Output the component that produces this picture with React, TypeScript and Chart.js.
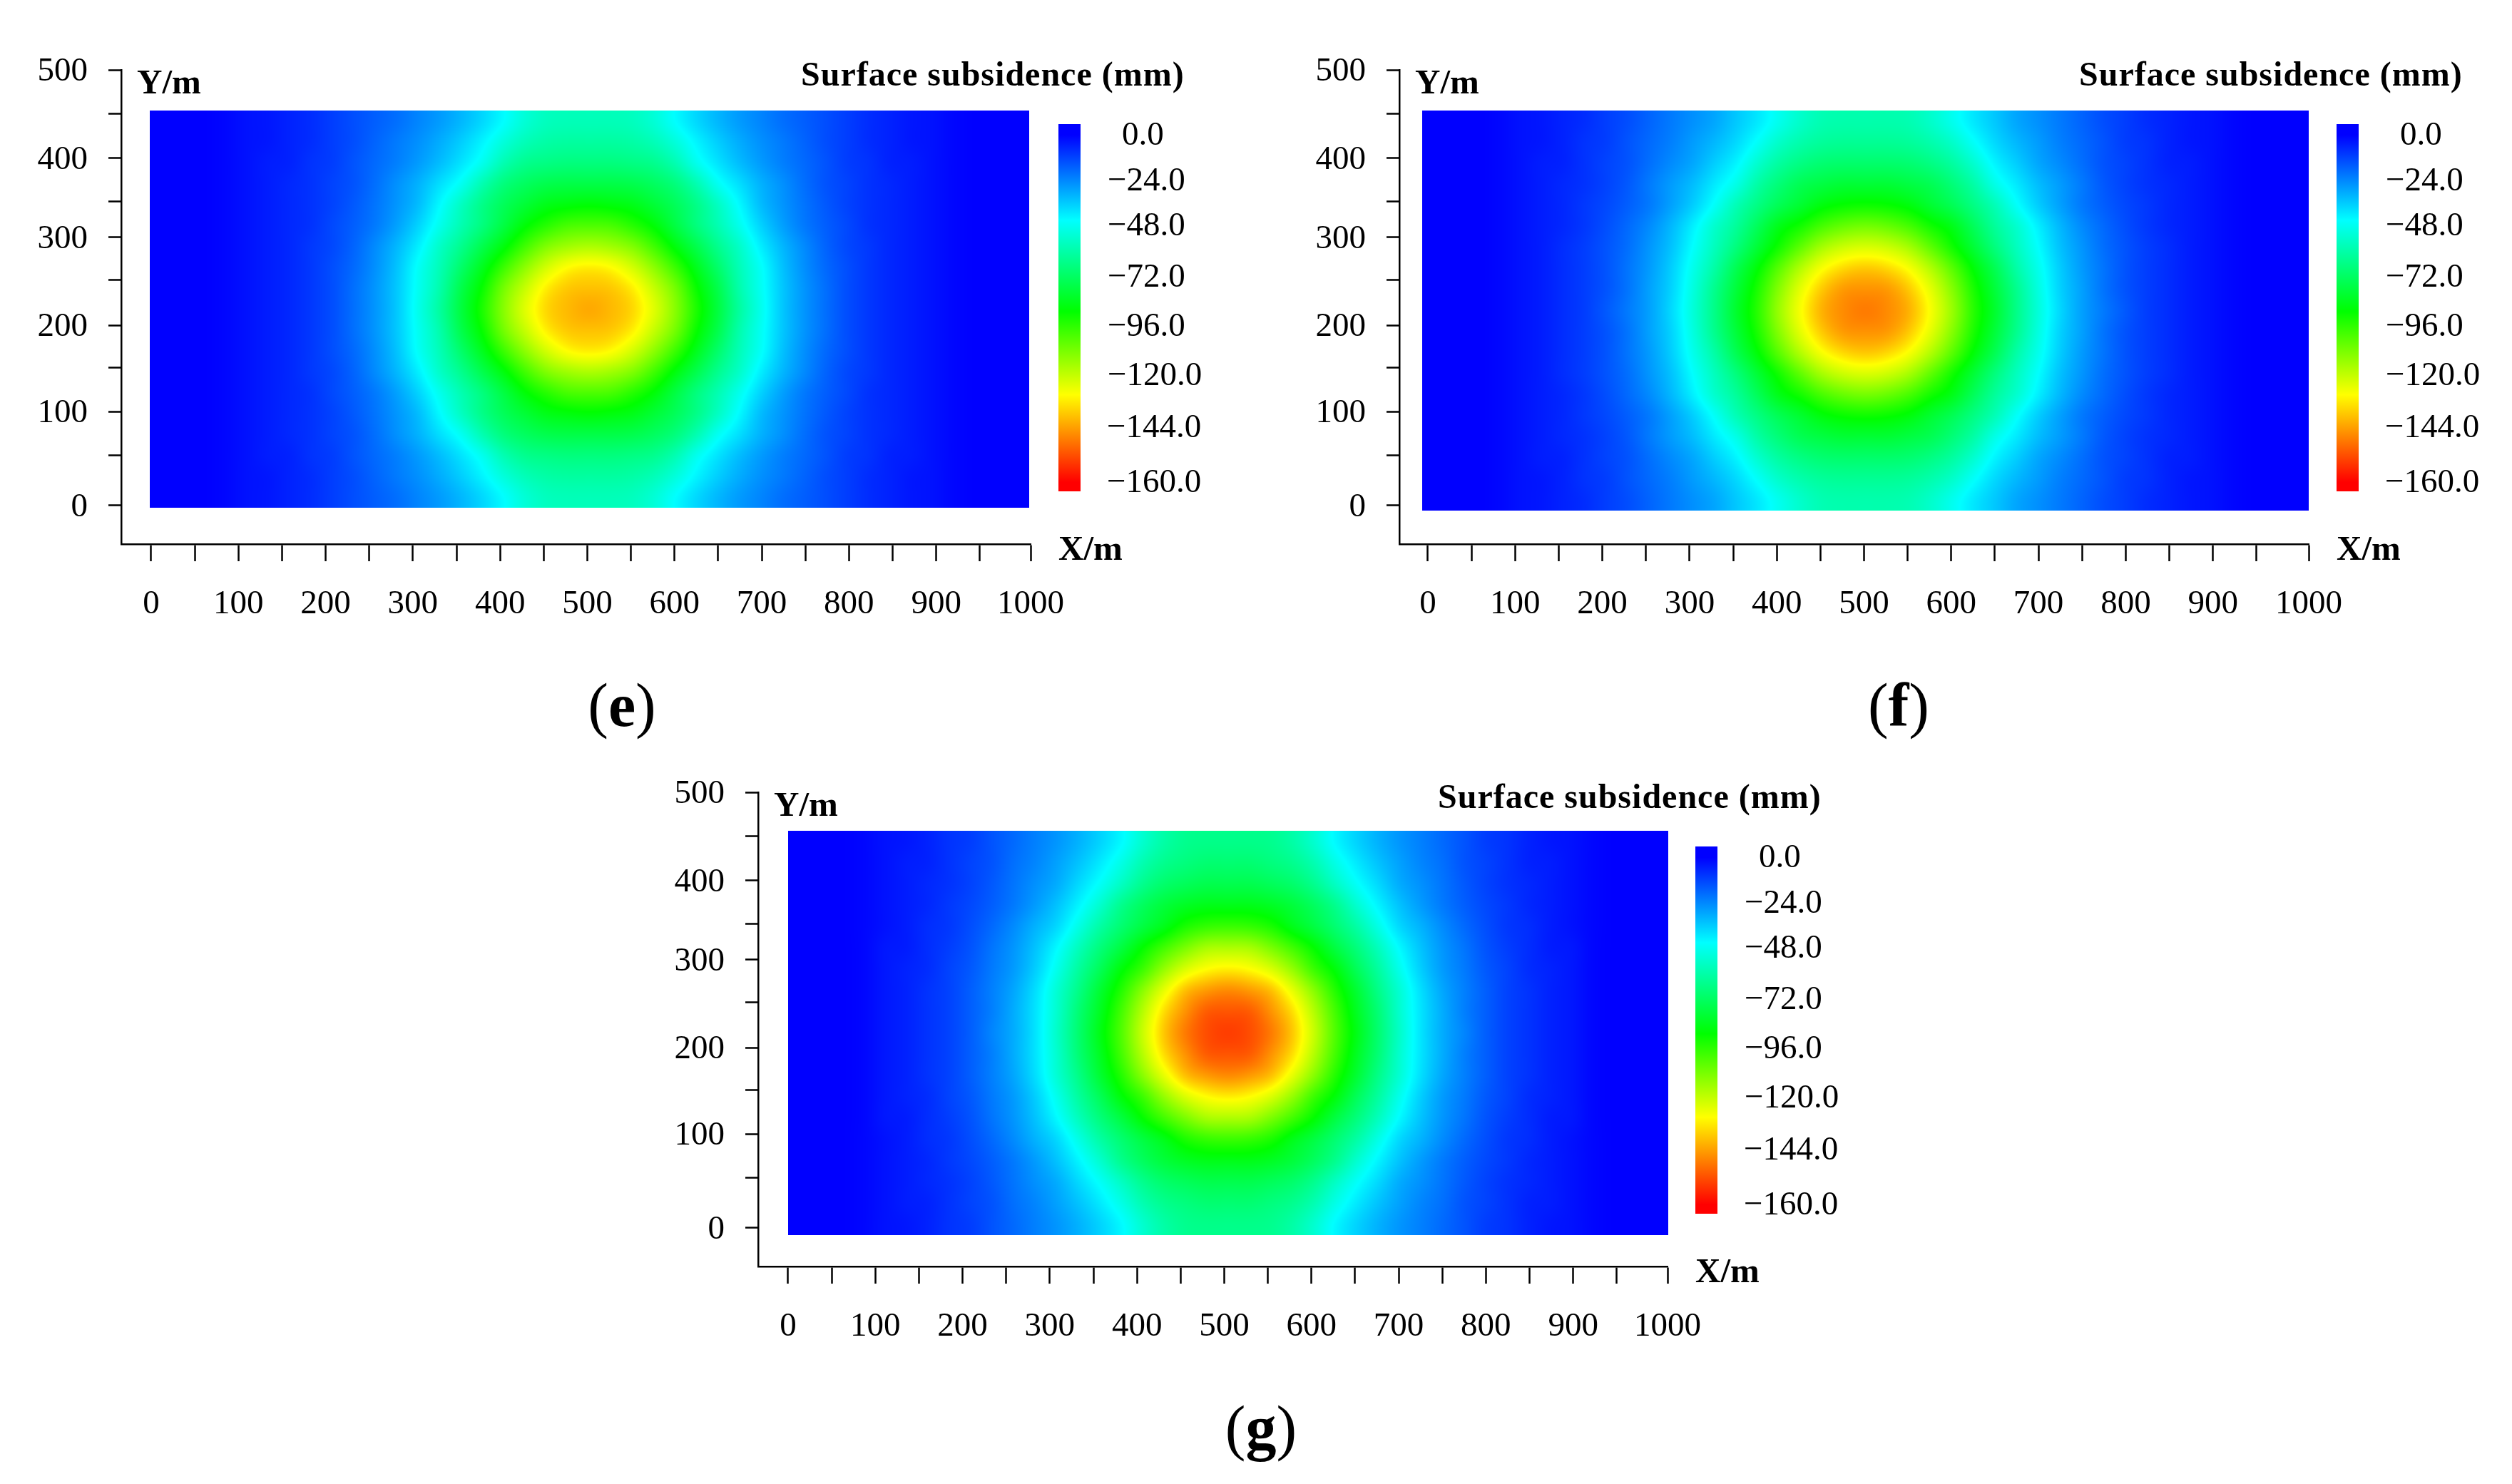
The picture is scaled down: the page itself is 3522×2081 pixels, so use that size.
import React, { useEffect, useRef } from "react";
import { Chart, registerables } from "chart.js";

Chart.register(...registerables);

// Tick positions and their printed texts. The source figure's axes are not perfectly even,
// so Y_TICK_AT holds where each printed tick sits on the axis scale.
const X_TICKS = [0, 50, 100, 150, 200, 250, 300, 350, 400, 450, 500, 550, 600, 650, 700, 750, 800, 850, 900, 950, 1000];
const Y_TICK_AT = [0, 58, 108, 158, 207, 259, 308, 349, 399, 450, 500];
const Y_TICK_TEXT = ["0", "", "100", "", "200", "", "300", "", "400", "", "500"];
const LEGEND_TEXT = ["0.0", "\u221224.0", "\u221248.0", "\u221272.0", "\u221296.0", "\u2212120.0", "\u2212144.0", "\u2212160.0"];

// Subsidence magnitude (mm). Each field is symmetric about its centre,
// so one quadrant is read: rows go from the centre row outwards, columns from the centre column outwards.
const FIELD_E = [
  [140,138,134,124,110,93,78,62,49,36,27,20,14,10,7,5,3,1,0,0,0],
  [137,136,131,120,107,90,76,60,48,36,27,20,14,10,7,5,3,1,0,0,0],
  [131,129,122,111,98,84,71,58,47,35,26,19,14,10,7,5,3,1,0,0,0],
  [116,114,109,99,87,76,65,55,43,33,25,18,13,10,7,5,3,1,0,0,0],
  [101,100,95,88,78,68,59,49,38,29,22,17,13,9,7,5,3,1,0,0,0],
  [88,87,85,80,74,66,56,45,34,27,21,16,12,9,7,5,3,1,0,0,0],
  [77,77,76,73,68,59,48,40,32,26,20,15,12,9,7,5,3,1,0,0,0],
  [68,68,67,65,59,49,41,34,28,23,19,15,11,9,6,5,3,1,0,0,0],
  [62,62,61,58,52,44,37,31,26,22,18,14,11,8,6,4,3,1,0,0,0],
  [58,58,57,53,46,39,33,28,24,20,17,14,11,8,6,4,3,1,0,0,0],
];
const FIELD_F = [
  [146,144,139,128,113,95,81,66,52,39,29,22,16,11,8,5,3,1,0,0,0],
  [143,142,136,125,110,93,79,65,51,38,29,21,15,11,8,5,3,1,0,0,0],
  [136,134,128,117,103,88,75,61,49,37,28,21,15,11,8,5,3,1,0,0,0],
  [123,121,115,104,92,80,68,57,46,35,27,20,15,11,8,5,3,1,0,0,0],
  [107,105,100,92,85,74,63,54,43,33,25,19,14,10,7,5,3,1,0,0,0],
  [91,90,87,81,75,67,58,47,37,29,22,17,13,10,7,5,3,1,0,0,0],
  [80,80,78,75,69,61,50,42,34,28,22,16,12,9,7,5,3,1,0,0,0],
  [71,71,70,67,62,54,44,37,30,25,20,15,12,9,6,5,3,1,0,0,0],
  [64,64,63,60,55,47,39,33,28,23,19,15,11,9,6,4,3,1,0,0,0],
  [60,60,59,55,49,42,36,30,26,22,18,14,11,8,6,4,3,1,0,0,0],
];
const FIELD_G = [
  [154,152,146,136,120,101,85,70,55,41,31,24,17,12,9,6,4,1,0,0,0],
  [151,150,143,133,117,99,83,69,54,41,31,23,17,12,9,6,4,1,0,0,0],
  [144,142,137,125,110,94,80,66,53,40,30,23,17,12,9,6,4,1,0,0,0],
  [131,129,123,112,98,87,74,62,49,37,28,22,16,12,8,6,4,1,0,0,0],
  [116,115,108,99,89,78,68,57,45,35,27,21,15,11,8,5,4,1,0,0,0],
  [98,97,93,85,78,70,61,50,39,32,25,19,14,10,8,5,3,1,0,0,0],
  [85,85,83,79,73,65,54,44,35,28,22,17,13,10,7,5,3,1,0,0,0],
  [76,76,74,71,65,56,47,39,31,26,21,16,12,9,7,5,3,1,0,0,0],
  [70,70,68,65,59,50,42,35,29,24,20,15,12,9,6,5,3,1,0,0,0],
  [66,66,65,61,54,45,38,32,27,23,19,15,11,9,6,4,3,1,0,0,0],
];

// Magnitude at which each pure colour of the rainbow occurs.
const COLOR_VALUES = [0, 46, 89, 129, 162];
const COLOR_RGB = [[0, 0, 255], [0, 255, 255], [0, 255, 0], [255, 255, 0], [255, 0, 0]];
const BAR_STOPS: [number, string][] = [[0, "#0000ff"], [0.03, "#0000ff"], [0.262, "#00ffff"], [0.51, "#00ff00"], [0.737, "#ffff00"], [0.975, "#ff0000"], [1, "#ff0000"]];

// Layout (all in px of a panel's own canvas frame, plus per-panel placement).
const CANVAS_W = 1700;
const CANVAS_H = 1000;
const FONT = "'Liberation Serif'";
const AREA = { left: 170, top: 38, right: 1445, bottom: 703 };
const LEGEND_Y = [127, 191, 254, 326, 395, 464, 537, 614];
const LEGEND_LEFT = [1573, 1553, 1553, 1553, 1553, 1553, 1552, 1552];

const PANELS = [
  { id: "e", field: FIELD_E, left: 0, top: 60, xMin: -34.3, xMax: 1008.2, heatX: [-2, 1006], heatY: [-3, 453], captionX: 872 },
  { id: "f", field: FIELD_F, left: 1792, top: 60, xMin: -32.7, xMax: 1009.8, heatX: [-6.5, 1010], heatY: [-6.5, 453], captionX: 870 },
  { id: "g", field: FIELD_G, left: 893, top: 1073, xMin: -34.3, xMax: 1008.2, heatX: [0, 1009], heatY: [-8, 456], captionX: 875 },
];

const COLS = 41;
const ROWS = 19;

function colorOf(v: number): number[] {
  const s = COLOR_VALUES;
  if (v <= s[0]) return COLOR_RGB[0];
  for (let i = 1; i < s.length; i++) {
    if (v <= s[i]) {
      const t = (v - s[i - 1]) / (s[i] - s[i - 1]);
      const a = COLOR_RGB[i - 1];
      const b = COLOR_RGB[i];
      return [a[0] + (b[0] - a[0]) * t, a[1] + (b[1] - a[1]) * t, a[2] + (b[2] - a[2]) * t];
    }
  }
  return COLOR_RGB[COLOR_RGB.length - 1];
}

function weights(t: number): number[] {
  const t2 = t * t;
  const t3 = t2 * t;
  return [-0.5 * t3 + t2 - 0.5 * t, 1.5 * t3 - 2.5 * t2 + 1, -1.5 * t3 + 2 * t2 + 0.5 * t, 0.5 * t3 - 0.5 * t2];
}

// Shades the read grid: positions come from the library's point elements.
const fieldPlugin = {
  id: "subsidenceField",
  beforeDatasetsDraw(chart: any) {
    const elems = chart.getDatasetMeta(0).data;
    const values = chart.data.datasets[0].data.map((d: any) => d.v);
    const cellW = (elems[COLS - 1].x - elems[0].x) / (COLS - 1);
    const cellH = (elems[(ROWS - 1) * COLS].y - elems[0].y) / (ROWS - 1);
    const left = elems[0].x - cellW / 2;
    const top = elems[0].y - cellH / 2;
    const w = Math.round(cellW * COLS);
    const h = Math.round(cellH * ROWS);
    const off = document.createElement("canvas");
    off.width = w;
    off.height = h;
    const octx = off.getContext("2d")!;
    const img = octx.createImageData(w, h);
    const at = (r: number, c: number) =>
      values[Math.max(0, Math.min(ROWS - 1, r)) * COLS + Math.max(0, Math.min(COLS - 1, c))];
    let p = 0;
    for (let py = 0; py < h; py++) {
      const fy = ((py + 0.5) / h) * ROWS - 0.5;
      const r0 = Math.floor(fy);
      const wy = weights(fy - r0);
      for (let px = 0; px < w; px++) {
        const fx = ((px + 0.5) / w) * COLS - 0.5;
        const c0 = Math.floor(fx);
        const wx = weights(fx - c0);
        let v = 0;
        for (let a = 0; a < 4; a++) {
          for (let b = 0; b < 4; b++) {
            v += wy[a] * wx[b] * at(r0 - 1 + a, c0 - 1 + b);
          }
        }
        const col = colorOf(Math.max(0, v));
        img.data[p++] = col[0];
        img.data[p++] = col[1];
        img.data[p++] = col[2];
        img.data[p++] = 255;
      }
    }
    octx.putImageData(img, 0, 0);
    chart.ctx.drawImage(off, Math.round(left), Math.round(top));
  },
};

function annotationPlugin(id: string, captionX: number) {
  return {
    id: "annotations",
    afterDraw(chart: any) {
      const ctx = chart.ctx;
      ctx.save();
      ctx.fillStyle = "#000";
      ctx.textAlign = "left";
      ctx.textBaseline = "alphabetic";
      // titles
      ctx.font = `bold 48px ${FONT}`;
      (ctx as any).letterSpacing = "1px";
      ctx.fillText("Surface subsidence (mm)", 1123, 60);
      (ctx as any).letterSpacing = "0px";
      ctx.font = `bold 49px ${FONT}`;
      ctx.fillText("Y/m", 192, 71);
      ctx.fillText("X/m", 1484, 725);
      // colour bar
      const barTop = 114;
      const barBottom = 629;
      const grad = ctx.createLinearGradient(0, barTop, 0, barBottom);
      BAR_STOPS.forEach(([o, c]) => grad.addColorStop(o, c));
      ctx.fillStyle = grad;
      ctx.fillRect(1484, barTop, 31, barBottom - barTop);
      ctx.fillStyle = "#000";
      ctx.font = `47px ${FONT}`;
      LEGEND_TEXT.forEach((t, i) => ctx.fillText(t, LEGEND_LEFT[i], LEGEND_Y[i] + 16));
      // caption: plain parentheses round a bold letter
      const size = 86;
      ctx.font = `${size}px ${FONT}`;
      const pw = ctx.measureText("(").width;
      ctx.font = `bold ${size}px ${FONT}`;
      const lw = ctx.measureText(id).width;
      const x0 = captionX - (pw * 2 + lw) / 2;
      const base = 958;
      ctx.font = `${size}px ${FONT}`;
      ctx.fillText("(", x0, base);
      ctx.fillText(")", x0 + pw + lw, base);
      ctx.font = `bold ${size}px ${FONT}`;
      ctx.fillText(id, x0 + pw, base);
      ctx.restore();
    },
  };
}

function buildPoints(p: (typeof PANELS)[number]) {
  const pts: { x: number; y: number; v: number }[] = [];
  for (let j = 0; j < ROWS; j++) {
    for (let i = 0; i < COLS; i++) {
      pts.push({
        x: p.heatX[0] + ((i + 0.5) * (p.heatX[1] - p.heatX[0])) / COLS,
        y: p.heatY[1] - ((j + 0.5) * (p.heatY[1] - p.heatY[0])) / ROWS,
        v: p.field[Math.abs(j - 9)][Math.abs(i - 20)],
      });
    }
  }
  return pts;
}

function Panel({ panel }: { panel: (typeof PANELS)[number] }) {
  const ref = useRef<HTMLCanvasElement>(null);
  useEffect(() => {
    const tickFont = { family: FONT, size: 47 };
    const chart = new Chart(ref.current!, {
      type: "scatter",
      data: { datasets: [{ label: "Surface subsidence (mm)", data: buildPoints(panel), pointRadius: 0, pointHoverRadius: 0 }] },
      options: {
        animation: false,
        responsive: false,
        devicePixelRatio: 1,
        layout: { padding: { left: 0, top: AREA.top, right: CANVAS_W - AREA.right, bottom: 0 } },
        plugins: { legend: { display: false }, tooltip: { enabled: false }, title: { display: false } },
        scales: {
          x: {
            type: "linear",
            min: panel.xMin,
            max: panel.xMax,
            afterBuildTicks: (s: any) => {
              // The figure's last tick sits at the very end of the axis line.
              s.ticks = X_TICKS.map((v) => ({ value: v === 1000 ? s.max : v }));
            },
            afterFit: (s: any) => {
              s.height = CANVAS_H - AREA.bottom;
              s.paddingLeft = 0;
              s.paddingRight = 0;
            },
            ticks: {
              autoSkip: false,
              maxRotation: 0,
              minRotation: 0,
              padding: 32,
              color: "#000",
              font: tickFont,
              callback: (_v: any, i: number) => (X_TICKS[i] % 100 === 0 ? String(X_TICKS[i]) : ""),
            },
            grid: { display: true, drawOnChartArea: false, drawTicks: true, tickLength: 24, tickWidth: 2.5, tickColor: "#000" },
            border: { display: true, color: "#000", width: 2.5 },
          },
          y: {
            type: "linear",
            min: -44.2,
            max: 500,
            afterBuildTicks: (s: any) => {
              s.ticks = Y_TICK_AT.map((v) => ({ value: v }));
            },
            afterFit: (s: any) => {
              s.width = AREA.left;
              s.paddingTop = 0;
              s.paddingBottom = 0;
            },
            ticks: {
              autoSkip: false,
              padding: 29,
              labelOffset: 3,
              color: "#000",
              font: tickFont,
              callback: (_v: any, i: number) => Y_TICK_TEXT[i],
            },
            grid: { display: true, drawOnChartArea: false, drawTicks: true, tickLength: 18, tickWidth: 2.5, tickColor: "#000" },
            border: { display: true, color: "#000", width: 2.5 },
          },
        },
      },
      plugins: [fieldPlugin, annotationPlugin(panel.id, panel.captionX)],
    } as any);
    return () => chart.destroy();
  }, [panel]);
  return (
    <canvas
      ref={ref}
      width={CANVAS_W}
      height={CANVAS_H}
      style={{ position: "absolute", left: panel.left, top: panel.top, width: CANVAS_W, height: CANVAS_H, display: "block" }}
    />
  );
}

export default function App() {
  return (
    <div style={{ position: "absolute", left: 0, top: 0, width: 3522, height: 2081, background: "#fff", overflow: "hidden" }}>
      {PANELS.map((p) => (
        <Panel key={p.id} panel={p} />
      ))}
    </div>
  );
}
